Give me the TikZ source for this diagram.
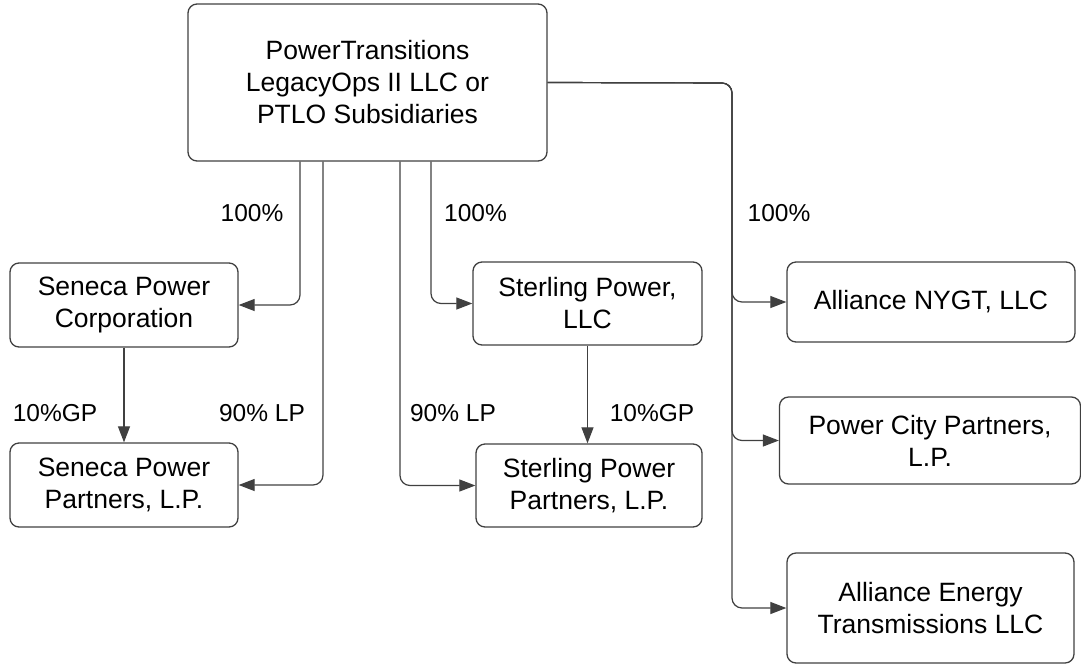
\documentclass[tikz,border=0pt]{standalone}
\usepackage{fontspec}
\setmainfont{Liberation Sans}
\usetikzlibrary{arrows.meta}
\begin{document}
\begin{tikzpicture}[x=1pt,y=-1pt,
	entity/.style={draw=black!75,line width=1.3pt,rounded corners=9pt,align=center,inner sep=0pt,font=\fontsize{26.5}{32}\selectfont},
	share/.style={font=\fontsize{24.5}{28}\selectfont},
	link/.style={draw=black!75,line width=1.2pt,rounded corners=10pt,-{Triangle[length=16pt,width=12pt]}}]
	\useasboundingbox (0,0) rectangle (1081,665);
	\node[entity,minimum width=359pt,minimum height=157pt] (ptlo) at (367.5,82.5) {PowerTransitions\\LegacyOps II LLC or\\PTLO Subsidiaries};
	\node[entity,minimum width=228pt,minimum height=84pt] (senecacorp) at (124,305) {Seneca Power\\Corporation};
	\node[entity,minimum width=228pt,minimum height=84pt] (senecalp) at (124,485) {Seneca Power\\Partners, L.P.};
	\node[entity,minimum width=229pt,minimum height=83pt] (sterlingllc) at (587.5,303.5) {Sterling Power,\\LLC};
	\node[entity,minimum width=226pt,minimum height=83pt] (sterlinglp) at (589,485.5) {Sterling Power\\Partners, L.P.};
	\node[entity,minimum width=288pt,minimum height=80pt] (nygt) at (931,302) {Alliance NYGT, LLC};
	\node[entity,minimum width=301pt,minimum height=87pt] (powercity) at (930,440.5) {Power City Partners,\\L.P.};
	\node[entity,minimum width=287pt,minimum height=110pt] (transmission) at (930.5,608) {Alliance Energy\\Transmissions LLC};
	\coordinate (bus) at (732,83);
	\draw[link] ([xshift=-67.5pt]ptlo.south) |- (senecacorp.east);
	\draw[link] ([xshift=-44.5pt]ptlo.south) |- (senecalp.east);
	\draw[link] ([xshift=32.5pt]ptlo.south) |- (sterlinglp.west);
	\draw[link] ([xshift=63.5pt]ptlo.south) |- (sterlingllc.west);
	\draw[link] (ptlo.east) -- (bus) |- (nygt.west);
	\draw[link] (ptlo.east) -- (bus) |- (powercity.west);
	\draw[link] (ptlo.east) -- (bus) |- (transmission.west);
	\draw[link] (senecacorp.south) -- (senecacorp.south |- senecalp.north);
	\draw[link] (sterlingllc.south) -- (sterlingllc.south |- sterlinglp.north);
	\node[share] (p1) at (252,213) {100\%};
	\node[share] (p2) at (475.5,213) {100\%};
	\node[share] (p3) at (779,213) {100\%};
	\node[share] (p4) at (55,413) {10\%GP};
	\node[share] (p5) at (262,413) {90\% LP};
	\node[share] (p6) at (453,413) {90\% LP};
	\node[share] (p7) at (652,413) {10\%GP};
\end{tikzpicture}
\end{document}
